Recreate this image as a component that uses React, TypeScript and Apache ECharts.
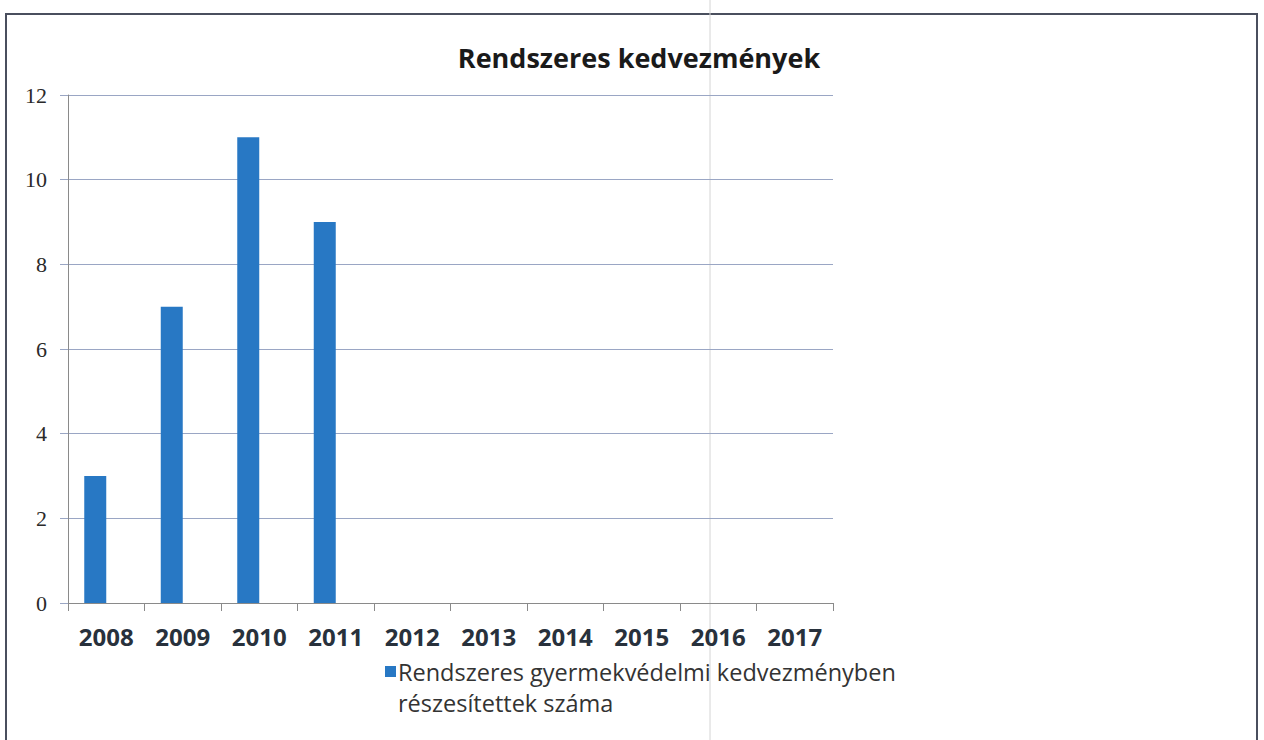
import React, { useEffect, useRef } from "react";
import * as echarts from "echarts";

const categories = ["2008", "2009", "2010", "2011", "2012", "2013", "2014", "2015", "2016", "2017"];
const values = [3, 7, 11, 9, null, null, null, null, null, null];
const emptySeries = [null, null, null, null, null, null, null, null, null, null];
const yTicks = { min: 0, max: 12, interval: 2 };
const titleText = "Rendszeres kedvezmények";
const seriesName = "Rendszeres gyermekvédelmi kedvezményben\nrészesítettek száma";

export default function App() {
  const ref = useRef<HTMLDivElement>(null);
  useEffect(() => {
    document.body.style.margin = "0";
    const chart = echarts.init(ref.current!, undefined, { renderer: "svg" });
    chart.setOption({
      animation: false,
      backgroundColor: "#ffffff",
      title: {
        text: titleText,
        left: 634,
        textAlign: "center",
        top: 39,
        textStyle: { fontFamily: "Open Sans", fontWeight: "bold", fontSize: 27, color: "#1a1a1a" },
      },
      legend: {
        show: true,
        left: 380,
        top: 651,
        data: [seriesName],
        itemWidth: 11,
        itemHeight: 42,
        itemGap: 0,
        icon: "path://M0,0h10v10h-10z M0,38.1h0.05v0.05h-0.05z",
        textStyle: { fontFamily: "Open Sans", fontSize: 23.5, color: "#333333", lineHeight: 31, padding: [0, 0, 0, -3] },
      },
      grid: { left: 68, right: 431, top: 95, bottom: 137, containLabel: false },
      xAxis: {
        type: "category",
        data: categories,
        axisLine: { lineStyle: { color: "#8a8a8a", width: 1 } },
        axisTick: { show: true, length: 8, alignWithLabel: false, lineStyle: { color: "#8a8a8a" } },
        axisLabel: {
          margin: 21,
          fontFamily: "Open Sans",
          fontWeight: "bold",
          fontSize: 24,
          color: "#28313c",
        },
      },
      yAxis: {
        type: "value",
        min: yTicks.min,
        max: yTicks.max,
        interval: yTicks.interval,
        axisLine: { show: true, lineStyle: { color: "#8a8a8a" } },
        axisTick: { show: true, length: 8, lineStyle: { color: "#9aa6c4" } },
        splitLine: { lineStyle: { color: "#9aa6c4", width: 1 } },
        axisLabel: {
          margin: 21,
          fontFamily: "Liberation Serif",
          fontSize: 22,
          color: "#2a2a2a",
        },
      },
      series: [
        {
          name: seriesName,
          type: "bar",
          data: values,
          barWidth: 22,
          barGap: "0%",
          itemStyle: { color: "#2878c4" },
        },
        {
          name: "empty",
          type: "bar",
          data: emptySeries,
          barWidth: 22,
          barGap: "0%",
          itemStyle: { color: "#c0504d" },
        },
      ],
      graphic: [
        {
          type: "rect",
          shape: { x: 6, y: 14, width: 1251, height: 760 },
          style: { fill: "none", stroke: "#4a4f5e", lineWidth: 2 },
          silent: true,
        },
        {
          type: "line",
          shape: { x1: 710, y1: 0, x2: 710, y2: 740 },
          style: { stroke: "#d4d4d4", lineWidth: 1 },
          silent: true,
        },
      ],
    });
    return () => chart.dispose();
  }, []);
  return <div ref={ref} style={{ width: 1264, height: 740 }} />;
}
